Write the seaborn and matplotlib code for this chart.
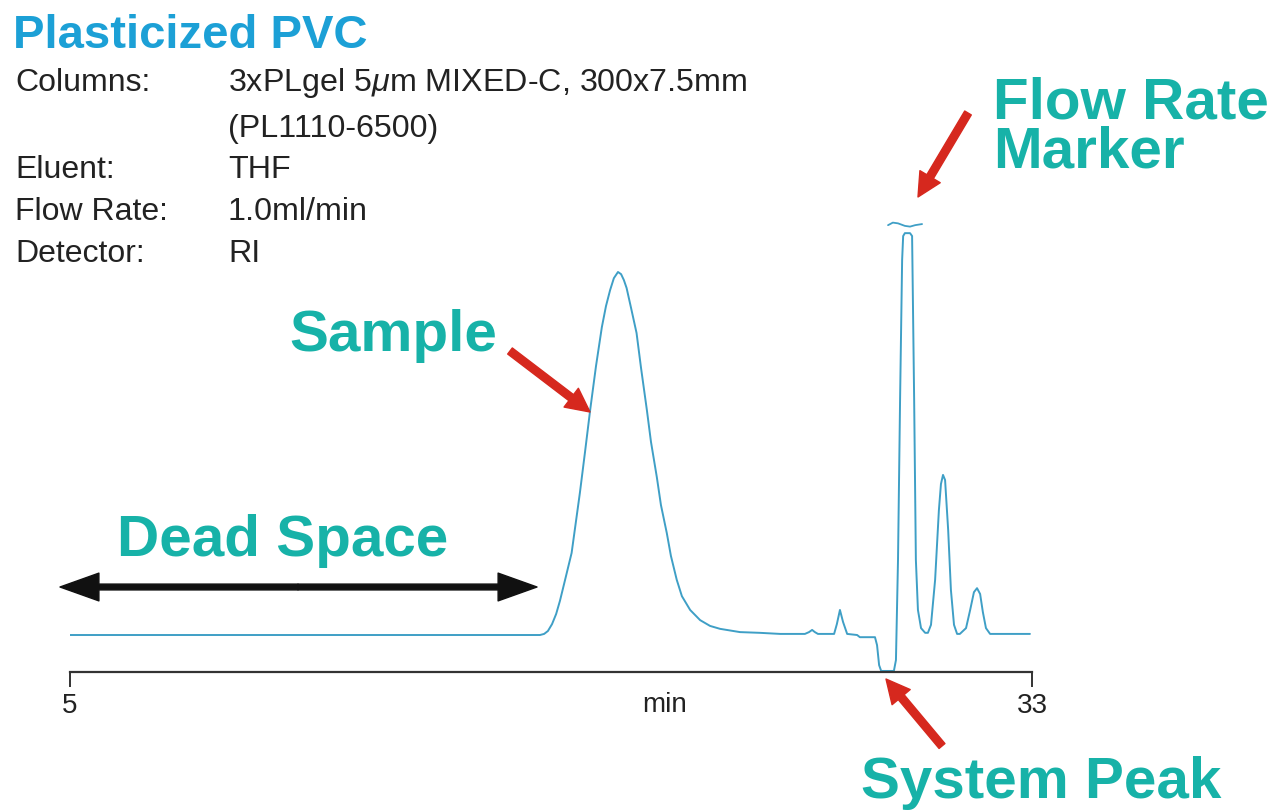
import numpy as np
import pandas as pd
import matplotlib
matplotlib.use("Agg")
import matplotlib.pyplot as plt
import seaborn as sns

# RI detector trace: retention time (min) and response (arbitrary units, sample apex = 100)
time_min = [
    5.00, 18.68, 18.80, 18.91, 19.03, 19.15, 19.26, 19.41, 19.60, 19.84,
    19.99, 20.14, 20.31, 20.48, 20.60, 20.72, 20.83, 20.95, 21.04, 21.12,
    21.20, 21.33, 21.49, 21.62, 21.79, 21.91, 22.08, 22.20, 22.37, 22.49,
    22.66, 22.81, 23.05, 23.34, 23.63, 23.92, 24.50, 25.08, 25.67, 26.39,
    26.51, 26.60, 26.68, 26.77, 27.24, 27.32, 27.41, 27.50, 27.62, 27.91,
    27.99, 28.43, 28.49, 28.55, 28.61, 28.98, 29.04, 29.10, 29.16, 29.22,
    29.25, 29.30, 29.45, 29.51, 29.57, 29.62, 29.68, 29.77, 29.89, 29.97,
    30.06, 30.18, 30.29, 30.35, 30.41, 30.47, 30.56, 30.64, 30.73, 30.82,
    30.90, 31.08, 31.20, 31.31, 31.40, 31.49, 31.57, 31.66, 31.78, 32.94,
]
response = [
    0.0, 0.0, 0.3, 1.1, 3.0, 5.8, 9.4, 15.2, 22.6, 39.1,
    50.4, 62.0, 74.1, 84.8, 90.6, 95.0, 98.3, 100.0, 99.4, 97.8,
    95.6, 90.1, 83.2, 73.6, 62.0, 53.2, 43.5, 35.8, 28.1, 21.8,
    15.2, 10.7, 6.9, 4.1, 2.5, 1.7, 0.8, 0.6, 0.3, 0.3,
    0.8, 1.4, 0.8, 0.3, 0.3, 3.0, 6.9, 3.6, 0.3, 0.0,
    -0.6, -0.6, -2.8, -8.3, -9.9, -9.9, -6.9, 20.7, 64.7, 103.3,
    109.9, 110.7, 110.7, 109.9, 64.7, 20.7, 6.9, 1.9, 0.6, 0.6,
    2.8, 15.2, 34.4, 41.6, 44.1, 42.7, 28.9, 12.4, 2.8, 0.3,
    0.3, 1.9, 6.9, 11.8, 12.9, 11.3, 6.3, 1.9, 0.3, 0.3,
]

# Off-scale indicator above the flow rate marker peak
cap_time = [28.81, 28.95, 29.10, 29.30, 29.45, 29.60, 29.80]
cap_response = [112.9, 113.6, 113.4, 112.7, 112.5, 112.9, 113.2]

x_ticks = [5, 33]
x_tick_labels = ["5", "33"]

title = "Plasticized PVC"
info_labels = ["Columns:", "", "Eluent:", "Flow Rate:", "Detector:"]
info_values = [r"3xPLgel 5$\mu$m MIXED-C, 300x7.5mm", "(PL1110-6500)",
               "THF", "1.0ml/min", "RI"]

trace = pd.DataFrame({"time": time_min, "signal": response})
cap = pd.DataFrame({"time": cap_time, "signal": cap_response})

sns.set_theme(style="white")
plt.rcParams["font.family"] = ["Liberation Sans", "DejaVu Sans"]
plt.rcParams["mathtext.fontset"] = "custom"
plt.rcParams["mathtext.rm"] = "Liberation Sans"
plt.rcParams["mathtext.it"] = "Liberation Sans:italic"

W, H = 1281, 811
fig = plt.figure(figsize=(W / 100, H / 100), dpi=100)
fig.patch.set_facecolor("white")


def fx(px):
    return px / W


def fy(py):
    return 1 - py / H


ax = fig.add_axes([fx(70), fy(672), fx(1032) - fx(70), fy(200) - fy(672)])
ax.set_facecolor("none")

trace_color = "#3f9fc6"
sns.lineplot(data=trace, x="time", y="signal", sort=False, estimator=None,
             color=trace_color, lw=1.4, ax=ax)
sns.lineplot(data=cap, x="time", y="signal", sort=False, estimator=None,
             color=trace_color, lw=1.3, ax=ax)

ax.set_xlim(5, 33)
ax.set_ylim(-10.19, 119.83)
for side in ["top", "left", "right"]:
    ax.spines[side].set_visible(False)
ax.spines["bottom"].set_color("#333333")
ax.spines["bottom"].set_linewidth(1.6)
ax.set_yticks([])
ax.set_ylabel("")
ax.set_xticks(x_ticks)
ax.set_xticklabels(x_tick_labels, fontsize=20, color="#222222")
ax.tick_params(axis="x", direction="out", length=11, width=1.4,
               color="#333333", pad=4, bottom=True)
ax.set_xlabel("min", fontsize=20, color="#222222")
ax.xaxis.set_label_coords((665 - 70) / 962, -0.042)

# Header block
blue = "#1ca0d6"
teal = "#17b2a8"
red = "#d6281e"
fig.text(fx(13), fy(48), title, fontsize=34, fontweight="bold", color=blue,
         ha="left", va="baseline")
row_base = [91, 137, 178, 220, 262]
for lab, val, yb in zip(info_labels, info_values, row_base):
    if lab:
        fig.text(fx(15), fy(yb), lab, fontsize=23, color="#222222",
                 ha="left", va="baseline")
    fig.text(fx(228), fy(yb), val, fontsize=23.2, color="#222222",
             ha="left", va="baseline")

# Callout labels
ann_kw = dict(fontsize=42, fontweight="bold", color=teal, ha="left",
              va="baseline")
fig.text(fx(993), fy(168), "Flow Rate\nMarker", linespacing=0.89,
         multialignment="left", **ann_kw)
fig.text(fx(289), fy(351), "Sample", **ann_kw)
fig.text(fx(117), fy(556), "Dead Space", **ann_kw)
fig.text(fx(861), fy(798), "System Peak", **ann_kw)


def tpx(px):
    return 5 + (px - 70) / 34.357


def spx(py):
    return (635 - py) / 3.63


red_style = "simple,head_length=1.7,head_width=1.7,tail_width=0.55"
for tail, head in [((510, 351), (590, 412)),
                   ((968, 113), (918, 197)),
                   ((942, 746), (886, 679))]:
    ax.annotate("", xy=(tpx(head[0]), spx(head[1])),
                xytext=(tpx(tail[0]), spx(tail[1])),
                arrowprops=dict(arrowstyle=red_style, color=red,
                                mutation_scale=10, shrinkA=0, shrinkB=0),
                annotation_clip=False)

# Dead space span (double-headed)
black_style = "simple,head_length=2.8,head_width=2.0,tail_width=0.42"
mid = tpx(298)
for end in [60, 537]:
    ax.annotate("", xy=(tpx(end), spx(587)), xytext=(mid, spx(587)),
                arrowprops=dict(arrowstyle=black_style, color="#111111",
                                mutation_scale=10, shrinkA=0, shrinkB=0),
                annotation_clip=False)

fig.savefig("out.png", dpi=100, facecolor="white")
